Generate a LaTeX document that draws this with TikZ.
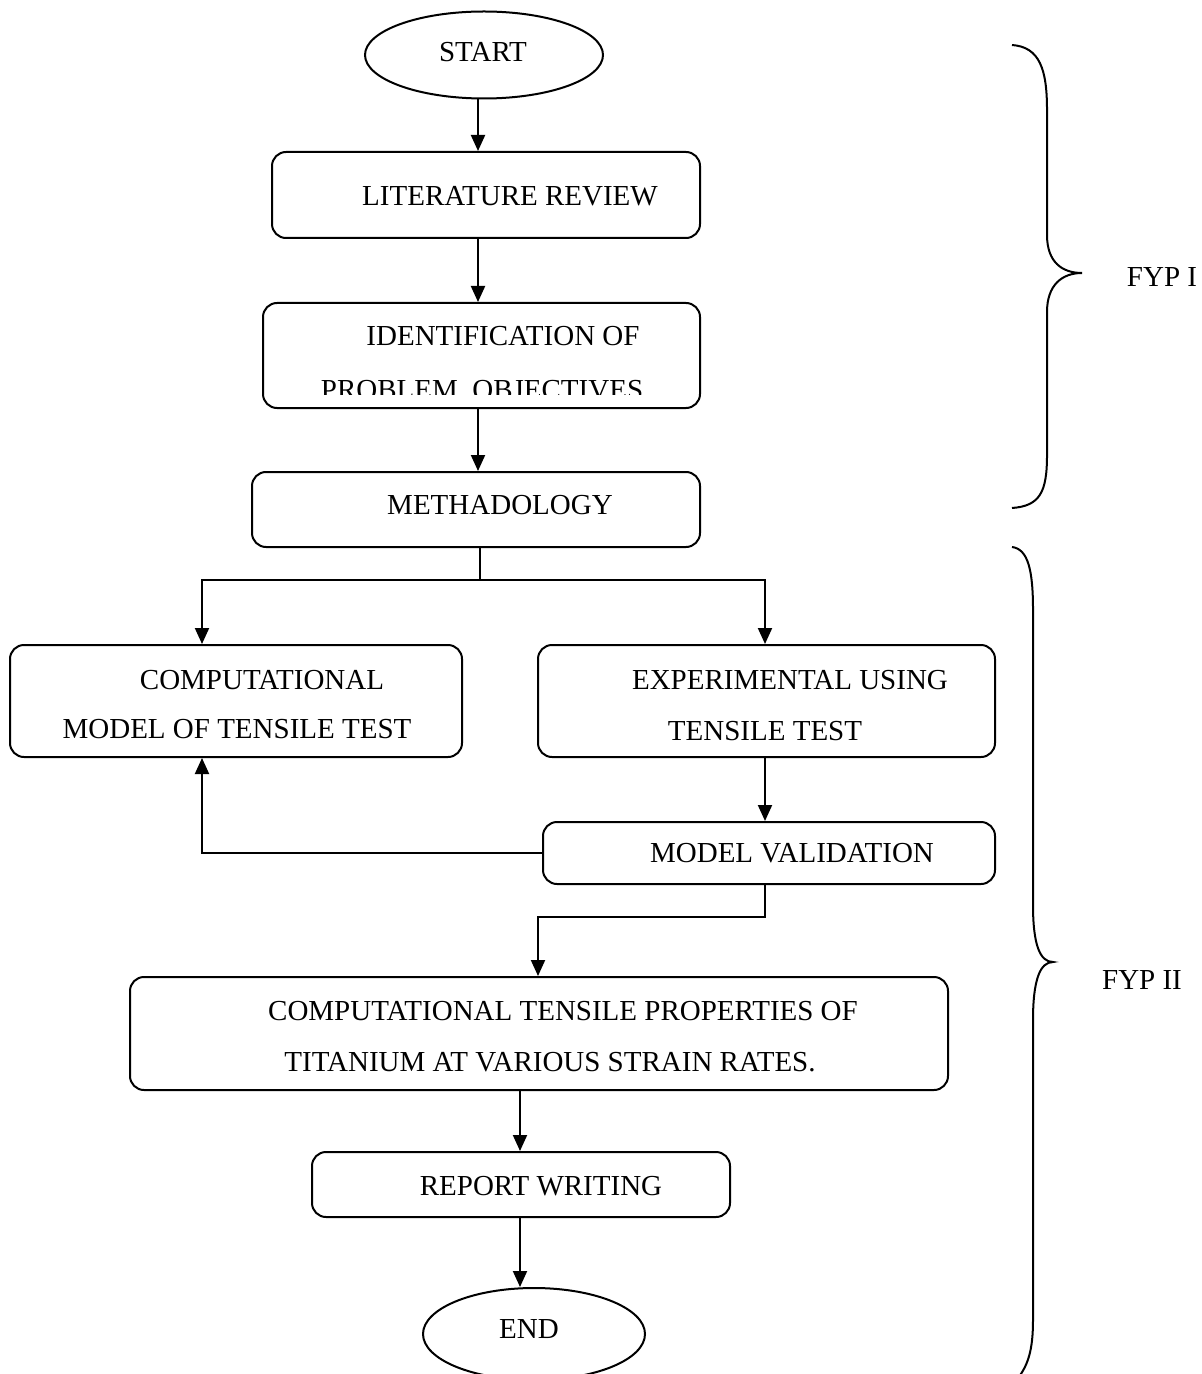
\documentclass[tikz,border=0pt]{standalone}
\usepackage{fontspec}
\setmainfont{Liberation Serif}
\usetikzlibrary{arrows.meta,shapes.geometric}
\begin{document}
\begin{tikzpicture}[x=0.5pt,y=-0.5pt,
  line width=1pt,
  box/.style={draw, rounded corners=7pt, inner sep=0pt},
  oval/.style={draw, ellipse, inner sep=0pt},
  txt/.style={anchor=base, inner sep=0pt, font=\fontsize{14.5}{17}\selectfont},
  arr/.style={-{Triangle[length=8pt,width=7pt]}}]
\useasboundingbox (0,0) rectangle (1201,1374);

% shapes
\node[oval, minimum width=119pt, minimum height=43.5pt] (start) at (484,55) {};
\node[box, minimum width=214pt, minimum height=43pt] (lit) at (486,195) {};
\node[box, minimum width=218.5pt, minimum height=52.5pt] (ident) at (481.5,355.5) {};
\node[box, minimum width=224pt, minimum height=37.5pt] (meth) at (476,509.5) {};
\node[box, minimum width=226pt, minimum height=56pt] (comp) at (236,701) {};
\node[box, minimum width=228.5pt, minimum height=56pt] (exp) at (766.5,701) {};
\node[box, minimum width=226pt, minimum height=31pt] (mv) at (769,853) {};
\node[box, minimum width=409pt, minimum height=56.5pt] (ctp) at (539,1033.5) {};
\node[box, minimum width=209pt, minimum height=32.5pt] (rw) at (521,1184.5) {};
\node[oval, minimum width=111pt, minimum height=46pt] (end) at (534,1334) {};

% texts
\node[txt] (tstart) at (483,62) {START};
\node[txt] (tlit) at (510,206) {LITERATURE REVIEW};
\node[txt] (tident1) at (503,345) {IDENTIFICATION OF};
\begin{scope}
  \clip (0,0) rectangle (1201,394);
  \node[txt] (tident2) at (482,399) {PROBLEM. OBJECTIVES};
\end{scope}
\node[txt] (tmeth) at (500,514) {METHADOLOGY};
\node[txt] (tcomp1) at (262,689) {COMPUTATIONAL};
\node[txt] (tcomp2) at (237,738) {MODEL OF TENSILE TEST};
\node[txt] (texp1) at (790,689) {EXPERIMENTAL USING};
\node[txt] (texp2) at (765,740) {TENSILE TEST};
\node[txt] (tmv) at (792,862) {MODEL VALIDATION};
\node[txt] (tctp1) at (563,1020) {COMPUTATIONAL TENSILE PROPERTIES OF};
\node[txt] (tctp2) at (550,1071) {TITANIUM AT VARIOUS STRAIN RATES.};
\node[txt] (trw) at (541,1195) {REPORT WRITING};
\node[txt] (tend) at (529,1338) {END};
\node[txt] (fyp1) at (1162,287) {FYP I};
\node[txt] (fyp2) at (1142,989) {FYP II};

% helper coordinates
\coordinate (cA) at (478,0);
\coordinate (cL) at (202,0);
\coordinate (cR) at (765,0);
\coordinate (cM) at (538,0);
\coordinate (cN) at (520,0);
\coordinate (sp) at (480,580);
\coordinate (jn) at (765,917);

% connectors
\draw[arr] (start.south -| cA) -- (lit.north -| cA);
\draw[arr] (lit.south -| cA) -- (ident.north -| cA);
\draw[arr] (ident.south -| cA) -- (meth.north -| cA);
\draw (meth.south -| sp) -- (sp);
\draw[arr] (sp) -| (comp.north -| cL);
\draw[arr] (sp) -| (exp.north -| cR);
\draw[arr] (exp.south -| cR) -- (mv.north -| cR);
\draw[arr] (mv.west) -| (comp.south -| cL);
\draw[arr] (mv.south -| jn) -- (jn) -| (ctp.north -| cM);
\draw[arr] (ctp.south -| cN) -- (rw.north -| cN);
\draw[arr] (rw.south -| cN) -- (end.north -| cN);

% braces
\draw (1012,45) .. controls (1040,47) and (1047,70) .. (1047,110)
  -- (1047,235) .. controls (1047,262) and (1062,273) .. (1082,273)
  .. controls (1062,273) and (1047,285) .. (1047,312)
  -- (1047,455) .. controls (1047,492) and (1040,506) .. (1012,508);
\draw (1012,547) .. controls (1028,549) and (1033,570) .. (1033,610)
  -- (1033,905) .. controls (1033,945) and (1040,962) .. (1053,962)
  .. controls (1040,962) and (1033,980) .. (1033,1020)
  -- (1033,1320) .. controls (1033,1350) and (1028,1365) .. (1018,1378);
\end{tikzpicture}
\end{document}
